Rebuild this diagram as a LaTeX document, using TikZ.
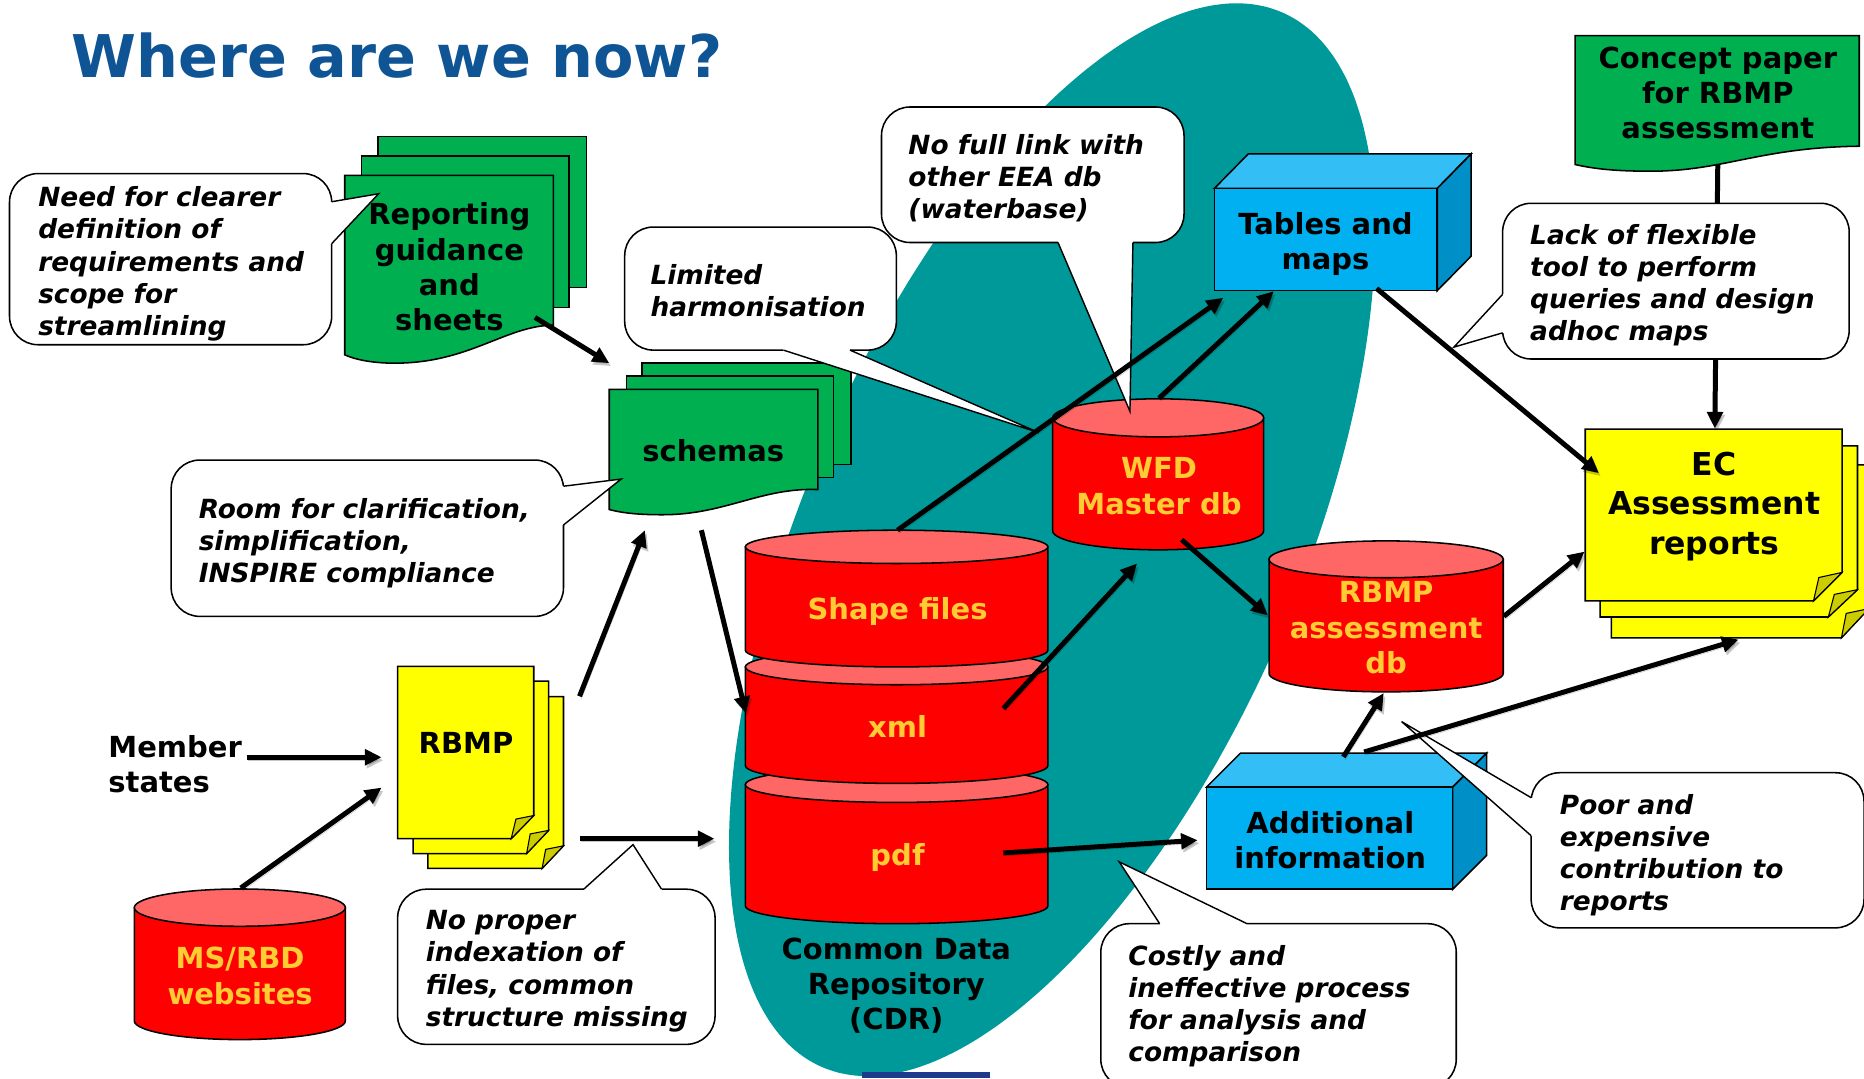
\documentclass[tikz,border=0pt]{standalone}
\usepackage{fontspec}
\setmainfont{DejaVu Sans}
\usetikzlibrary{arrows.meta}
\definecolor{teal1}{HTML}{009999}
\definecolor{titleblue}{HTML}{0F5494}
\definecolor{navybar}{HTML}{1F3A8A}
\definecolor{sheetgreen}{HTML}{00B050}
\definecolor{cylred}{HTML}{FF0000}
\definecolor{cyltop}{HTML}{FF6666}
\definecolor{gold}{HTML}{FFCC33}
\definecolor{boxfront}{HTML}{00B0F0}
\definecolor{boxtop}{HTML}{33BFF5}
\definecolor{boxside}{HTML}{008FC7}
\definecolor{sheetyellow}{HTML}{FFFF00}
\definecolor{foldyellow}{HTML}{CCCC00}
\tikzset{
  x=1pt,y=-1pt,
  outline/.style={draw=black,line width=1.3pt,line join=miter},
  greensheet/.style={outline,fill=sheetgreen},
  yellowsheet/.style={outline,fill=sheetyellow},
  foldcorner/.style={outline,fill=foldyellow,line width=.9pt},
  calloutbox/.style={draw=black,fill=white,line width=1.3pt,rounded corners=24pt},
  calloutpointer/.style={draw=black,line width=1.2pt,line join=miter},
  calltext/.style={font=\fontsize{22.2}{27}\selectfont\bfseries\itshape,align=left,anchor=west,inner sep=0pt},
  labeltext/.style={font=\fontsize{24.4}{29.6}\selectfont\bfseries,align=center,inner sep=0pt},
  goldtext/.style={labeltext,text=gold},
  arr/.style={draw=black,line width=4.2pt,-{Triangle[length=14pt,width=13pt]},
    preaction={draw=black,opacity=.22,transform canvas={xshift=1.5pt,yshift=-2.5pt}}}
}
% x1 x2 yc ry ybottom
\newcommand{\dbcyl}[5]{%
  \pgfmathsetmacro{\xm}{(#1+#2)/2}%
  \pgfmathsetmacro{\rw}{(#2-#1)/2}%
  \pgfmathsetmacro{\ys}{#5-#4}%
  \pgfmathsetmacro{\ysc}{#5-#4*.45}%
  \pgfmathsetmacro{\xl}{\xm-\rw*.55}%
  \pgfmathsetmacro{\xr}{\xm+\rw*.55}%
  \draw[outline,fill=cylred] (#1,#3) -- (#1,\ys) .. controls (#1,\ysc) and (\xl,#5) .. (\xm,#5)
     .. controls (\xr,#5) and (#2,\ysc) .. (#2,\ys) -- (#2,#3) -- cycle;
  \draw[outline,fill=cyltop] (\xm,#3) ellipse [x radius=\rw pt,y radius=#4 pt];
}
% x1 x2 y1 y2 foldx foldy innerx innery
\newcommand{\foldsheet}[8]{%
  \draw[yellowsheet] (#1,#3) -- (#2,#3) -- (#2,#6) -- (#5,#4) -- (#1,#4) -- cycle;
  \draw[foldcorner] (#5,#4) -- (#2,#6) -- (#7,#8) -- cycle;
}
% x1 y1 x2 y2 (front) depthx depthy
\newcommand{\cuboid}[6]{%
  \draw[outline,fill=boxtop] (#1,#2) -- (#1+#5,#2-#6) -- (#3+#5,#2-#6) -- (#3,#2) -- cycle;
  \draw[outline,fill=boxside] (#3,#2) -- (#3+#5,#2-#6) -- (#3+#5,#4-#6) -- (#3,#4) -- cycle;
  \draw[outline,fill=boxfront] (#1,#2) rectangle (#3,#4);
}
% base point, tip, base point
\newcommand{\pointer}[3]{%
  \fill[white] #1 -- #2 -- #3 -- cycle;
  \draw[white,line width=2.8pt] #1 -- #3;
  \draw[calloutpointer] #1 -- #2 -- #3;
}
\begin{document}
\begin{tikzpicture}
\useasboundingbox (0,0) rectangle (1568,907);
\fill[white] (0,0) rectangle (1568,907);

% big ellipse
\fill[teal1] plot[smooth cycle,domain=0:356,samples=90]
  ({885+484*sin(23.6)*cos(\x)+208*cos(23.6)*sin(\x)},{454-484*cos(23.6)*cos(\x)+208*sin(23.6)*sin(\x)});
\fill[navybar] (725,902) rectangle (833,907);

\node[font=\fontsize{49.5}{55}\selectfont\bfseries,text=titleblue,anchor=base west,inner sep=0pt] (title) at (60,65) {Where are we now?};

% Named arrow ends
\coordinate (repOut) at (450,267);      \coordinate (schIn) at (512.5,305.5);
\coordinate (rbmpUp) at (487.5,585.7);  \coordinate (schBelow) at (542.5,446);
\coordinate (schOut) at (590,446);      \coordinate (xmlIn) at (627.5,600);
\coordinate (memOut) at (207.5,637);    \coordinate (rbmpIn) at (321,637);
\coordinate (msOut) at (202.5,747);     \coordinate (rbmpIn2) at (321,662.5);
\coordinate (rbmpOut) at (487.5,705.5); \coordinate (cdrIn) at (601,705.5);
\coordinate (shapeOut) at (755,446);    \coordinate (tabIn) at (1029,250.5);
\coordinate (wfdOut) at (975,335);      \coordinate (tabIn2) at (1071.5,245);
\coordinate (tabOut) at (1158,242.7);   \coordinate (ecIn) at (1345,398);
\coordinate (conOut) at (1445,138);     \coordinate (ecTop) at (1442.5,360.5);
\coordinate (xmlOut) at (844,596);      \coordinate (wfdIn) at (956.5,474);
\coordinate (wfdOut2) at (994,454);     \coordinate (asmIn) at (1066.5,517.6);
\coordinate (asmOut) at (1265,518.5);   \coordinate (ecIn2) at (1333,464);
\coordinate (addOut) at (1130,636.7);   \coordinate (asmIn2) at (1164,583);
\coordinate (addOut2) at (1147.5,632.6);\coordinate (ecIn3) at (1462.5,538);
\coordinate (pdfOut) at (844,717.5);    \coordinate (addIn) at (1007.5,706.8);

% Reporting stack
\draw[greensheet] (318,115) rectangle (493.5,242);
\draw[greensheet] (304,131) rectangle (478.5,258.5);
\draw[greensheet] (290,147.5) -- (465.5,147.5) -- (465.5,273.5)
   .. controls (425,274) and (395,305.5) .. (332,305.5)
   .. controls (315,305.5) and (300,303) .. (290,298.5) -- cycle;
\node[labeltext] (reporting) at (378,224.5) {Reporting\\guidance\\and\\sheets};

% schemas stack
\draw[greensheet] (540,305.5) rectangle (716,390.7);
\draw[greensheet] (527,316.5) rectangle (701,401.7);
\draw[greensheet] (512.5,327.5) -- (688,327.5) -- (688,411.8)
   .. controls (640,410) and (610,433) .. (557.5,433)
   .. controls (540,433) and (525,432) .. (512.5,428.6) -- cycle;
\node[labeltext] (schemas) at (600,379) {schemas};

% Concept paper
\draw[greensheet] (1325,30) -- (1564,30) -- (1564,123)
   .. controls (1480,124) and (1450,144) .. (1389,144)
   .. controls (1365,144) and (1345,143) .. (1325,138.4) -- cycle;
\node[labeltext] (concept) at (1445,78) {Concept paper\\for RBMP\\assessment};

% Concept paper to EC runs under the callout
\draw[arr] (conOut) -- (ecTop);

% cylinders
\dbcyl{627}{881.5}{660}{15}{777}
\node[goldtext] (pdf) at (755,721) {pdf};
\dbcyl{627}{881.5}{561}{15}{659}
\node[goldtext] (xml) at (755,611) {xml};
\dbcyl{627}{881.5}{460}{14}{561}
\node[goldtext] (shape) at (755,514) {Shape files};
\node[labeltext] (cdr) at (754,829) {Common Data\\Repository\\(CDR)};

\dbcyl{885.5}{1063}{351.5}{16}{462.5}
\node[goldtext] (wfd) at (975,409) {WFD\\Master db};
\dbcyl{1067.5}{1264.5}{470.5}{15.5}{582}
\node[goldtext] (asm) at (1166,528) {RBMP\\assessment\\db};
\dbcyl{113}{290.5}{763.5}{15.7}{874.5}
\node[goldtext] (ms) at (202,821) {MS/RBD\\websites};

% RBMP stack
\foldsheet{360}{474}{586}{730.5}{456}{711.5}{459}{714.5}
\foldsheet{347.5}{461.5}{573}{718}{443}{698.5}{446}{701.5}
\foldsheet{334.5}{449}{560.5}{705.5}{430}{686}{434}{689}
\node[labeltext] (rbmp) at (392,625) {RBMP};

% EC stack
\foldsheet{1355.5}{1572}{391}{536.5}{1549}{512}{1553}{516}
\foldsheet{1346}{1562.5}{375}{519}{1538}{496}{1543}{500}
\foldsheet{1333.5}{1549.5}{361}{505.5}{1525.5}{481.5}{1530}{485.8}
\node[font=\fontsize{26.5}{33}\selectfont\bfseries,align=center,inner sep=0pt] (ec) at (1442,426) {EC\\Assessment\\reports};

% cuboids
\cuboid{1021.5}{158.5}{1209}{244.5}{28.5}{29}
\node[labeltext] (tables) at (1115,205) {Tables and\\maps};
\cuboid{1015}{662}{1222}{748}{28.5}{28.5}
\node[labeltext] (additional) at (1119,706.5) {Additional\\information};

\node[labeltext,align=left,anchor=west] (member) at (91,642.5) {Member\\states};

% Callouts
\draw[calloutbox] (8,146) rectangle (279,290);
\pointer{(279,169.7)}{(318.5,163)}{(279,205)}
\node[calltext] (c1) at (32,222) {Need for clearer\\definition of\\requirements and\\scope for\\streamlining};

\draw[calloutbox] (741.5,90) rectangle (996,204);
\pointer{(890,204)}{(950.5,346)}{(953,204)}
\node[calltext] (c3) at (764,150) {No full link with\\other EEA db\\(waterbase)};

\draw[calloutbox] (525.5,191) rectangle (754,294.5);
\pointer{(659,294.5)}{(874,364)}{(715,294.5)}
\node[calltext] (c2) at (547,244.5) {Limited\\harmonisation};

\draw[calloutbox] (1264,171) rectangle (1555.5,302);
\pointer{(1264,247.6)}{(1223,292)}{(1264,280)}
\node[calltext] (c4) at (1287,240) {Lack of flexible\\tool to perform\\queries and design\\adhoc maps};

\draw[calloutbox] (144,387) rectangle (474,518.5);
\pointer{(474,409)}{(522.5,403)}{(474,441.6)}
\node[calltext] (c5) at (167,457) {Room for clarification,\\simplification,\\INSPIRE compliance};

\draw[calloutbox] (334.5,748) rectangle (601.5,878.5);
\pointer{(491,748)}{(532.5,710.5)}{(556.5,748)}
\node[calltext] (c6) at (358,817) {No proper\\indexation of\\files, common\\structure missing};

\draw[calloutbox] (926,777) rectangle (1225,915);
\pointer{(975.5,777)}{(941.5,725)}{(1049,777)}
\node[calltext] (c7) at (949,846.5) {Costly and\\ineffective process\\for analysis and\\comparison};

\draw[calloutbox] (1288,650) rectangle (1568,780.5);
\pointer{(1288,671)}{(1179,607)}{(1288,703)}
\node[calltext] (c8) at (1312,719.5) {Poor and\\expensive\\contribution to\\reports};

% Arrows
\draw[arr] (repOut) -- (schIn);
\draw[arr] (rbmpUp) -- (schBelow);
\draw[arr] (schOut) -- (xmlIn);
\draw[arr] (memOut) -- (rbmpIn);
\draw[arr] (msOut) -- (rbmpIn2);
\draw[arr] (rbmpOut) -- (cdrIn);
\draw[arr] (shapeOut) -- (tabIn);
\draw[arr] (wfdOut) -- (tabIn2);
\draw[arr] (tabOut) -- (ecIn);
\draw[arr] (xmlOut) -- (wfdIn);
\draw[arr] (wfdOut2) -- (asmIn);
\draw[arr] (asmOut) -- (ecIn2);
\draw[arr] (addOut) -- (asmIn2);
\draw[arr] (addOut2) -- (ecIn3);
\draw[arr] (pdfOut) -- (addIn);
\end{tikzpicture}
\end{document}
